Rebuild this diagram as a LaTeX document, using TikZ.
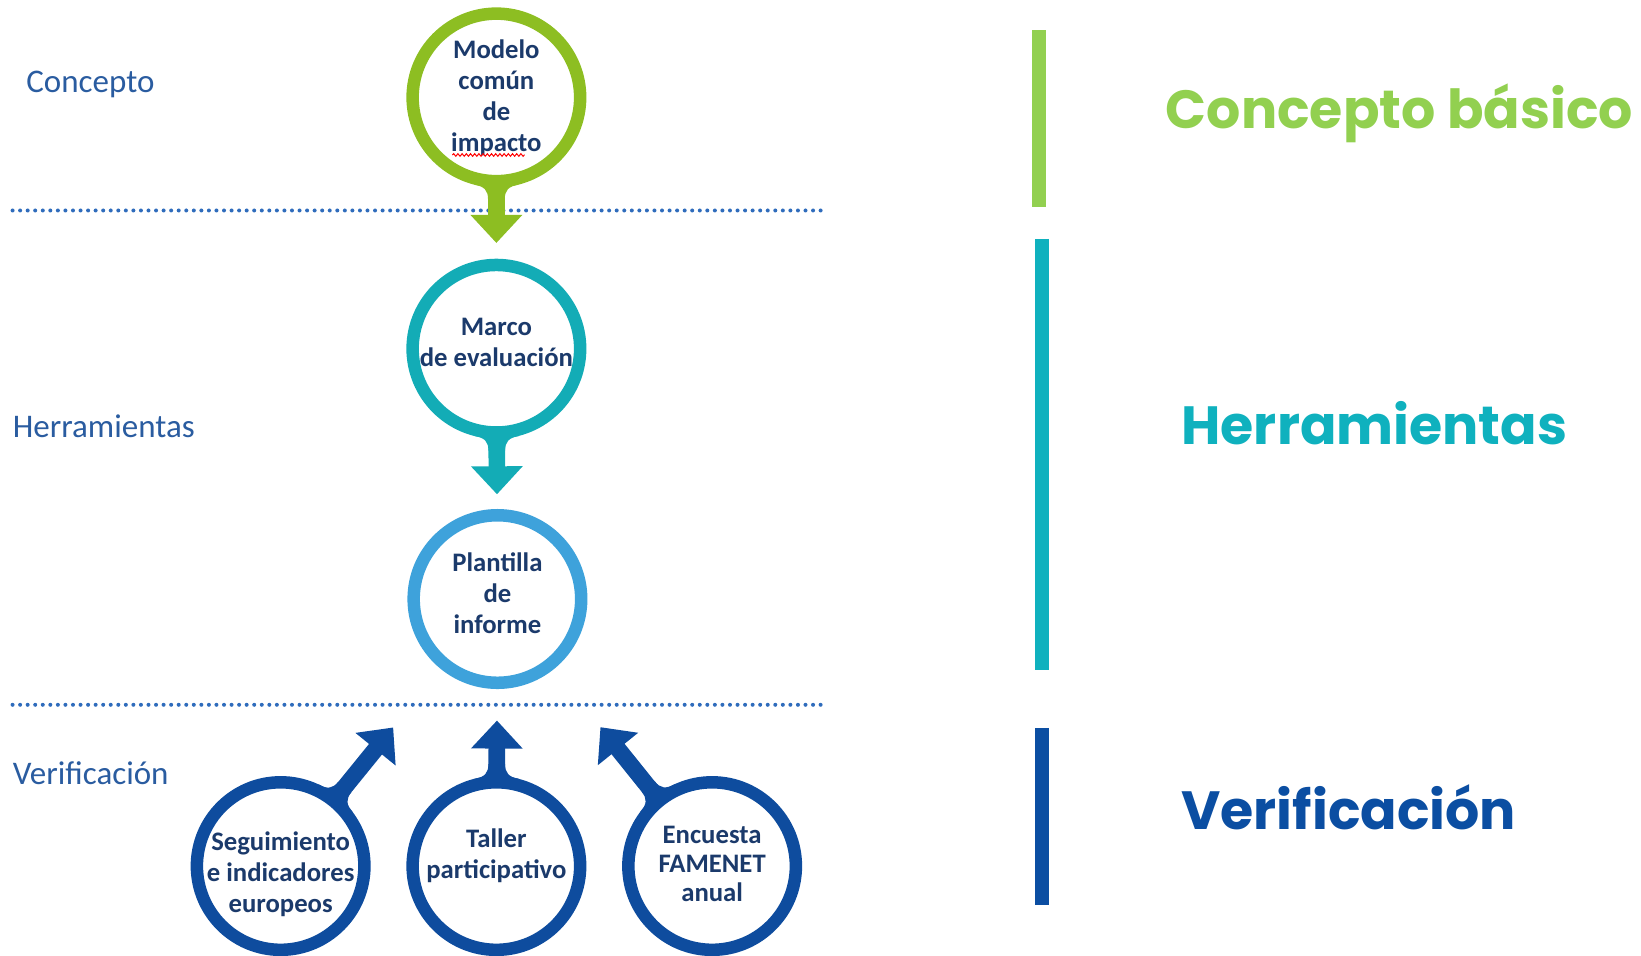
\documentclass[tikz,border=0pt]{standalone}
\usepackage{fontspec}
\setmainfont{Carlito}
\newfontfamily\titlefont{Poppins}
\usetikzlibrary{arrows.meta,decorations.pathmorphing,calc}
\definecolor{ringgreen}{HTML}{8DBE22}
\definecolor{ringteal}{HTML}{13ACB6}
\definecolor{ringlight}{HTML}{3EA2DB}
\definecolor{ringdark}{HTML}{0E4C9E}
\definecolor{navytext}{HTML}{1B3A6B}
\definecolor{labelblue}{HTML}{2A5CA0}
\definecolor{dotblue}{HTML}{2F6CBC}
\definecolor{bargreen}{HTML}{92D050}
\definecolor{barteal}{HTML}{0FB1BE}
\definecolor{bardark}{HTML}{0B4EA2}
\begin{document}
\begin{tikzpicture}[x=1.047pt,y=-1.047pt,
  ring/.style={circle, draw, line width=12.5pt, fill=white, minimum size=167.5pt,
    inner sep=0pt, outer sep=0pt},
  ringtext/.style={align=center, text=navytext, inner sep=0pt,
    font=\bfseries\fontsize{26.7}{31.1}\selectfont},
  flow/.style={line width=16.7pt, -{Triangle[length=28pt,width=50pt]}},
  dotline/.style={dotblue, line width=4pt, line cap=round, dash pattern=on 0pt off 7.55pt},
  sidelabel/.style={anchor=west, text=labelblue, font=\fontsize{33}{38}\selectfont, inner sep=0pt},
  bigtitle/.style={anchor=west, inner sep=0pt, font=\titlefont\bfseries\fontsize{53.8}{64}\selectfont},
  bar/.style={line width=14.7pt}
]
\useasboundingbox (0,0) rectangle (1567,912);

% dotted separators
\coordinate (d1a) at (12,201); \coordinate (d1b) at (785,201);
\coordinate (d2a) at (12,673); \coordinate (d2b) at (785,673);
\draw[dotline] (d1a) -- (d1b);
\draw[dotline] (d2a) -- (d2b);

% circle positions
\coordinate (p1) at (474,93);
\coordinate (p2) at (474,333);
\coordinate (p3) at (475,572);
\coordinate (p4) at (268,827);
\coordinate (p5) at (474,827);
\coordinate (p6) at (680,827);

% arrows (drawn before circles so the rings cover the stem roots)
\draw[flow, ringgreen, shorten >=105.7pt] (p1) -- (p2);
\draw[flow, ringteal, shorten >=104.7pt] (p2) -- (p3);
\draw[flow, ringdark, shorten >=165.4pt] (p4) -- (p3);
\draw[flow, ringdark, shorten >=121.5pt] (p5) -- (p3);
\draw[flow, ringdark, shorten >=164.4pt] (p6) -- (p3);

% circles
\node[ring, draw=ringgreen] (m1) at (p1) {};
\node[ring, draw=ringteal] (m2) at (p2) {};
\node[ring, draw=ringlight] (m3) at (p3) {};
\node[ring, draw=ringdark] (v1) at (p4) {};
\node[ring, draw=ringdark] (v2) at (p5) {};
\node[ring, draw=ringdark] (v3) at (p6) {};

% smooth joins between rings and arrow stems
\tikzset{fillet/.pic={
  \fill (-22pt,-5pt) -- (-22pt,-2.7pt) .. controls (-12pt,-1pt) and (-8.35pt,3pt) .. (-8.35pt,12pt)
     -- (8.35pt,12pt) .. controls (8.35pt,3pt) and (12pt,-1pt) .. (22pt,-2.7pt) -- (22pt,-5pt) -- cycle;}}
\coordinate (j1) at ($(p1)!90pt!(p2)$);
\coordinate (j2) at ($(p2)!90pt!(p3)$);
\coordinate (j4) at ($(p4)!90pt!(p3)$);
\coordinate (j5) at ($(p5)!90pt!(p3)$);
\coordinate (j6) at ($(p6)!90pt!(p3)$);
\pic[ringgreen, rotate=180] at (j1) {fillet};
\pic[ringteal, rotate=180] at (j2) {fillet};
\pic[ringdark, rotate=-39.1] at (j4) {fillet};
\pic[ringdark, rotate=0] at (j5) {fillet};
\pic[ringdark, rotate=38.8] at (j6) {fillet};

% circle texts
\node[ringtext] (m1t) at (474,93.5) {Modelo\\común\\de\\impacto};
\node[ringtext] (m2t) at (474,327) {Marco\\de evaluación};
\node[ringtext] (m3t) at (475,566.5) {Plantilla\\de\\informe};
\node[ringtext] (v1t) at (268,834.5) {Seguimiento\\e indicadores\\europeos};
\node[ringtext] (v2t) at (474,817.5) {Taller\\participativo};
\node[ringtext, font=\bfseries\fontsize{26.7}{29.3}\selectfont] (v3t) at (680,825) {Encuesta\\FAMENET\\anual};

% spell-check squiggle
\coordinate (sq1) at (432,148); \coordinate (sq2) at (501,148);
\draw[red, line width=1pt, decorate, decoration={snake, amplitude=1.3pt, segment length=4.2pt}] (sq1) -- (sq2);

% side labels
\node[sidelabel] (l1) at (25,81) {Concepto};
\node[sidelabel] (l2) at (12,407) {Herramientas};
\node[sidelabel] (l3) at (12,738) {Verificación};

% bars
\coordinate (b1a) at (992,29); \coordinate (b1b) at (992,198);
\coordinate (b2a) at (995,228); \coordinate (b2b) at (995,640);
\coordinate (b3a) at (995,695); \coordinate (b3b) at (995,864);
\draw[bar, bargreen] (b1a) -- (b1b);
\draw[bar, barteal] (b2a) -- (b2b);
\draw[bar, bardark] (b3a) -- (b3b);

% titles
\node[bigtitle, text=bargreen] (t1) at (1113,108) {Concepto básico};
\node[bigtitle, text=barteal] (t2) at (1128,404) {Herramientas};
\node[bigtitle, text=bardark] (t3) at (1128,771) {Verificación};
\end{tikzpicture}
\end{document}
